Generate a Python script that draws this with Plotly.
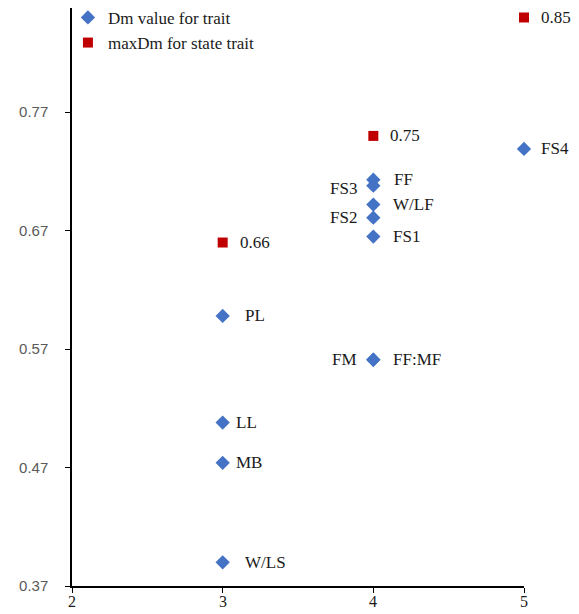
import plotly.graph_objects as go

# Dm values for traits
trait_names = ["FS4", "FF", "FS3", "W/LF", "FS2", "FS1", "PL", "FM", "FF:MF", "LL", "MB", "W/LS"]
trait_x = [5, 4, 4, 4, 4, 4, 3, 4, 4, 3, 3, 3]
trait_y = [0.739, 0.713, 0.708, 0.692, 0.681, 0.665, 0.598, 0.561, 0.561, 0.508, 0.474, 0.390]
trait_side = ["right", "right", "left", "right", "left", "right", "right", "left", "right", "right", "right", "right"]

# maxDm for state trait
max_x = [3, 4, 5]
max_y = [0.66, 0.75, 0.85]
max_labels = ["0.66", "0.75", "0.85"]

x_ticks = [2, 3, 4, 5]
y_ticks = [0.37, 0.47, 0.57, 0.67, 0.77]

SERIF = "Liberation Serif, Times New Roman, serif"
SANS = "Liberation Sans, Arial, sans-serif"
FS = 17

fig = go.Figure()
fig.add_trace(go.Scatter(
    x=trait_x, y=trait_y, mode="markers", name="Dm value for trait",
    marker=dict(symbol="diamond", size=11, color="#4472C4"), cliponaxis=False))
fig.add_trace(go.Scatter(
    x=max_x, y=max_y, mode="markers", name="maxDm for state trait",
    marker=dict(symbol="square", size=10, color="#C00000"), cliponaxis=False))

label_shift = {"PL": 20, "W/LS": 20, "LL": 11, "MB": 11, "FF": 19, "FS4": 15}
annotations = []
for name, x, y, side in zip(trait_names, trait_x, trait_y, trait_side):
    if side == "right":
        xs = label_shift.get(name, 18)
        annotations.append(dict(x=x, y=y, text=name, showarrow=False, xanchor="left",
                                xshift=xs, font=dict(family=SERIF, size=FS, color="#1a1a1a")))
    else:
        annotations.append(dict(x=x, y=y, text=name, showarrow=False, xanchor="right",
                                xshift=-14, yshift=(-3 if name == "FS3" else 0),
                                font=dict(family=SERIF, size=FS, color="#1a1a1a")))
for lab, x, y in zip(max_labels, max_x, max_y):
    annotations.append(dict(x=x, y=y, text=lab, showarrow=False, xanchor="left", xshift=15,
                            font=dict(family=SERIF, size=FS, color="#1a1a1a")))
# x tick labels (placed as text just below the axis so they fit the window)
for t in x_ticks:
    annotations.append(dict(x=t, xref="x", y=0, yref="paper", text=str(t), showarrow=False,
                            xanchor="center", yanchor="top", yshift=-5,
                            font=dict(family=SERIF, size=16, color="#1a1a1a")))

fig.update_layout(
    width=571, height=606,
    margin=dict(l=64, r=55, t=0, b=28, autoexpand=False),
    plot_bgcolor="white", paper_bgcolor="white",
    showlegend=True,
    legend=dict(x=-0.009, y=1.014, xanchor="left", yanchor="top",
                font=dict(family=SERIF, size=FS, color="#1a1a1a"),
                bgcolor="rgba(0,0,0,0)", tracegroupgap=0, itemwidth=30),
    annotations=annotations,
    xaxis=dict(range=[2, 5], tickvals=x_ticks, showgrid=False, zeroline=False,
               showline=True, linecolor="black", linewidth=1.5, automargin=False,
               ticks="outside", ticklen=5, tickcolor="black", showticklabels=False),
    yaxis=dict(range=[0.37, 0.858], tickvals=y_ticks, ticktext=[f"{v:.2f}" for v in y_ticks],
               showgrid=False, zeroline=False, automargin=False,
               showline=True, linecolor="black", linewidth=1.5,
               ticks="outside", ticklen=5, tickcolor="black", ticklabelstandoff=14,
               tickfont=dict(family=SANS, size=15, color="#595959")),
)

fig.write_html("out.html")
